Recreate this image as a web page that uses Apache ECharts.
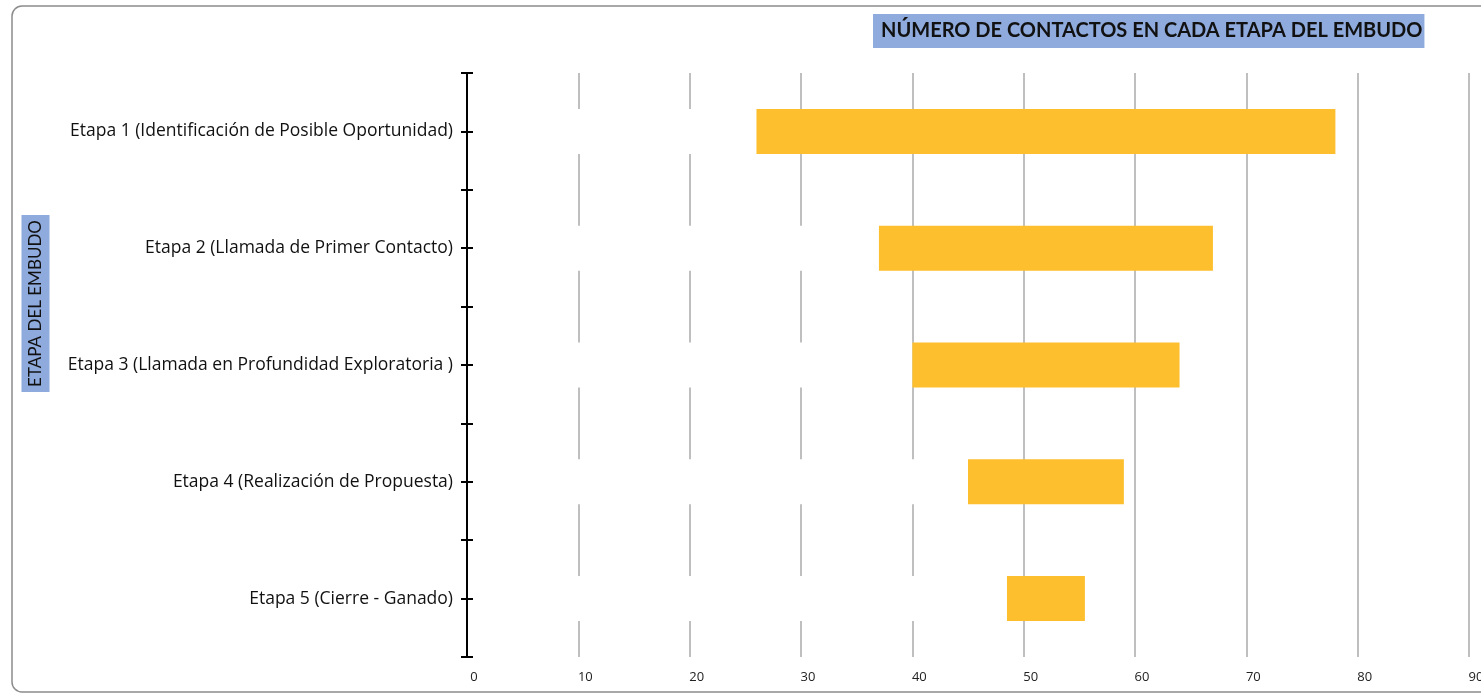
<!DOCTYPE html>
<html>
<head>
<meta charset="utf-8">
<script src="https://cdn.jsdelivr.net/npm/echarts@6/dist/echarts.min.js"></script>
<style>
  html, body { margin: 0; padding: 0; background: #fff; overflow: hidden; }
  #chart { width: 1481px; height: 696px; }
</style>
</head>
<body>
<div id="chart"></div>
<script>
// Funnel stages, top to bottom
const stages = [
  'Etapa 1 (Identificación de Posible Oportunidad)',
  'Etapa 2 (Llamada de Primer Contacto)',
  'Etapa 3 (Llamada en Profundidad Exploratoria )',
  'Etapa 4 (Realización de Propuesta)',
  'Etapa 5 (Cierre - Ganado)'
];
// Invisible spacer that centres each bar
const spacer = [26, 37, 40, 45, 48.5];
// Number of contacts in each stage
const contacts = [52, 30, 24, 14, 7];
const xTicks = [0, 10, 20, 30, 40, 50, 60, 70, 80, 90];

const title = 'NÚMERO DE CONTACTOS EN CADA ETAPA DEL EMBUDO';
const yName = 'ETAPA DEL EMBUDO';

const font = 'Lato, "Open Sans", sans-serif';
const labelFont = '"Open Sans", Lato, sans-serif';
const chart = echarts.init(document.getElementById('chart'));

// extra category axes that only draw the cross ticks on the vertical axis
function tickAxis(inside, align) {
  return {
    type: 'category', data: stages, inverse: true, position: 'left', z: 10,
    axisLine: { show: false },
    axisLabel: { show: false },
    splitLine: { show: false },
    axisTick: { show: true, inside: inside, alignWithLabel: align, length: 6,
      lineStyle: { color: '#000', width: 2 } }
  };
}

chart.setOption({
  animation: false,
  graphic: [
    { type: 'rect', shape: { x: 12, y: 6, width: 1520, height: 686, r: 10 },
      style: { fill: 'none', stroke: '#8c8c8c', lineWidth: 1.5 }, z: -10 },
    { type: 'text', x: 35.5, y: 303.5, rotation: Math.PI / 2, z: 20,
      style: { text: yName, fill: '#111', font: '17px ' + font,
        align: 'center', verticalAlign: 'middle',
        backgroundColor: '#8faadc', padding: [6, 5, 5, 5] } }
  ],
  title: {
    text: title,
    left: 873, top: 14,
    padding: [7, 2, 7, 8],
    backgroundColor: '#8faadc',
    textStyle: { fontFamily: font, fontSize: 20, fontWeight: 'bold', color: '#111' }
  },
  grid: { left: 467, right: 12, top: 73, bottom: 39, outerBoundsMode: 'none', containLabel: false },
  xAxis: {
    type: 'value', min: 0, max: 90, interval: 10,
    axisLine: { show: false },
    axisTick: { show: false },
    axisLabel: { color: '#222', fontFamily: labelFont, fontSize: 13, margin: 14,
      padding: [0, 0, 0, 14], hideOverlap: false,
      formatter: v => xTicks.includes(v) ? String(v) : '' },
    splitLine: { show: true, lineStyle: { color: '#bfbfbf', width: 2 } }
  },
  yAxis: [
    {
      type: 'category', data: stages, inverse: true, z: 10,
      axisLine: { show: true, lineStyle: { color: '#000', width: 2 } },
      axisTick: { show: true, length: 6, lineStyle: { color: '#000', width: 2 } },
      axisLabel: { color: '#111', fontFamily: labelFont, fontSize: 17.5, margin: 14 },
      splitLine: { show: false }
    },
    tickAxis(true, false),
    tickAxis(false, true),
    tickAxis(true, true)
  ],
  series: [
    {
      name: 'offset', type: 'bar', stack: 'funnel', data: spacer,
      barWidth: 45, silent: true,
      itemStyle: { color: '#fff' }
    },
    {
      name: 'Contactos', type: 'bar', stack: 'funnel', data: contacts,
      barWidth: 45,
      itemStyle: { color: '#fdbf2d' }
    }
  ]
});
</script>
</body>
</html>
